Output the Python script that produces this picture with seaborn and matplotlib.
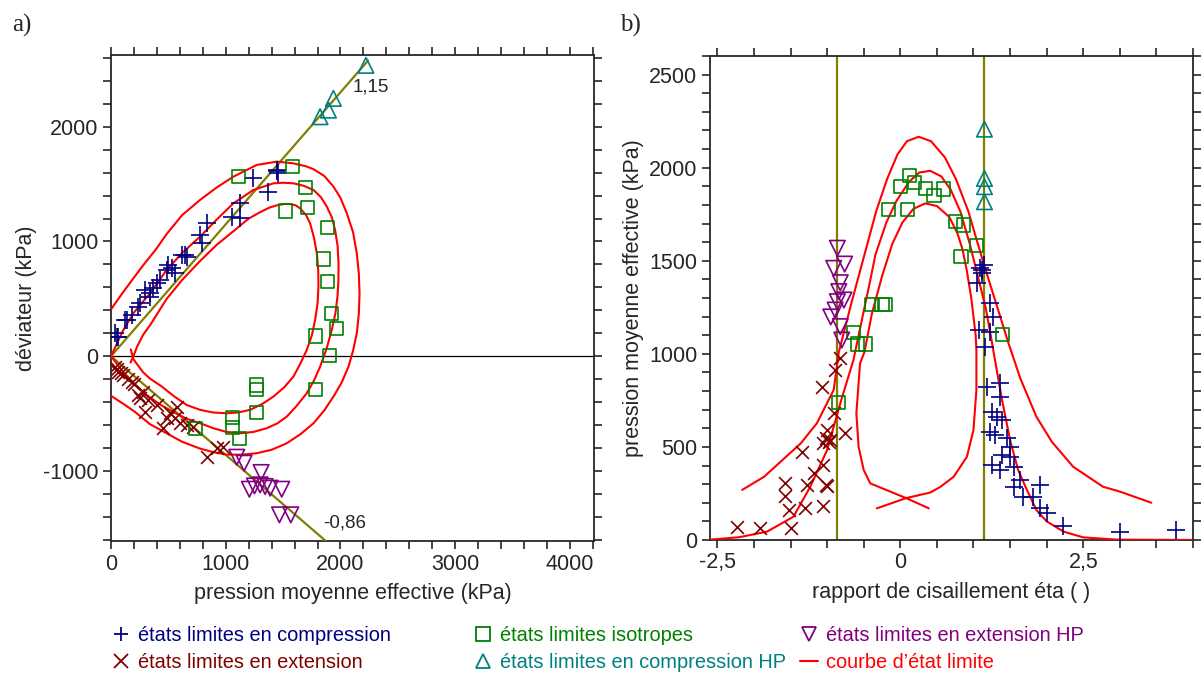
import numpy as np
import pandas as pd
import matplotlib
matplotlib.use("Agg")
import matplotlib.pyplot as plt
from matplotlib.lines import Line2D
from matplotlib.ticker import MultipleLocator, FuncFormatter
import seaborn as sns

# ---------- a) deviateur q (kPa) vs pression moyenne effective p (kPa) ----------
comp_p = [35, 49, 64, 122, 137, 180, 238, 253, 296, 340, 340, 369, 398, 427, 485, 500, 529, 558,
          616, 645, 660, 776, 791, 834, 1052, 1125, 1125, 1241, 1371, 1445, 1459, 1450]
comp_q = [200, 171, 171, 316, 316, 360, 432, 462, 578, 519, 549, 592, 636, 665, 752, 796, 766, 723,
          882, 883, 868, 1057, 984, 1158, 1216, 1202, 1333, 1550, 1434, 1623, 1594, 1610]

ext_p = [35, 50, 64, 90, 108, 151, 180, 200, 238, 253, 282, 296, 326, 398, 456, 485, 515, 558,
         573, 602, 660, 718, 834, 922, 980]
ext_q = [-90, -110, -134, -150, -163, -200, -221, -240, -337, -366, -308, -482, -380, -424, -627,
         -540, -497, -540, -438, -584, -598, -613, -874, -801, -787]

iso_p = [1110, 1581, 1698, 1712, 1523, 1887, 1852, 1887, 1924, 1962, 1779, 1904, 1779, 1270, 1270,
         1270, 1058, 1058, 1119, 738]
iso_q = [1565, 1652, 1472, 1295, 1266, 1121, 848, 650, 375, 244, 177, 3, -293, -250, -293, -491,
         -531, -621, -714, -627]

hpc_p = [2222, 1938, 1895, 1822]
hpc_q = [2535, 2247, 2145, 2087]

hpe_p = [1096, 1160, 1308, 1206, 1250, 1299, 1343, 1387, 1488, 1468, 1567]
hpe_q = [-880, -932, -1013, -1159, -1130, -1121, -1135, -1150, -1159, -1382, -1382]

# limit-state curves (courbes d'etat limite), panel a
out_p = [0, 100, 200, 286, 394, 485, 620, 776, 920, 1067, 1270, 1445, 1590, 1700, 1765, 1860, 1939,
         2000, 2055, 2110, 2142, 2160, 2166, 2160, 2142, 2110, 2070, 2010, 1939, 1860, 1765, 1650,
         1532, 1400, 1270, 1140, 1009, 890, 776, 620, 485, 340, 200, 100, 0]
out_q = [409, 550, 686, 800, 935, 1065, 1230, 1362, 1470, 1565, 1667, 1696, 1681, 1655, 1630, 1570,
         1478, 1380, 1246, 1080, 897, 720, 549, 370, 200, 50, -90, -230, -351, -470, -584, -680,
         -758, -815, -845, -858, -857, -835, -805, -745, -672, -592, -478, -410, -345]

mid_p = [0, 100, 195, 340, 485, 620, 776, 920, 1067, 1241, 1416, 1500, 1590, 1680, 1765, 1830, 1881,
         1925, 1953, 1975, 1983, 1982, 1974, 1955, 1924, 1880, 1823, 1770, 1706, 1620, 1532, 1450,
         1358, 1240, 1125, 1000, 892, 780, 660, 540, 427, 300, 195, 100, 0]
mid_q = [0, 215, 375, 549, 752, 900, 1042, 1190, 1333, 1449, 1507, 1512, 1507, 1485, 1449, 1385, 1304,
         1210, 1100, 960, 810, 660, 520, 370, 229, 70, -90, -210, -322, -430, -526, -585, -627, -660,
         -671, -658, -627, -585, -545, -485, -420, -330, -230, -130, 0]

inn_p = [170, 195, 230, 282, 340, 485, 620, 776, 920, 1067, 1200, 1299, 1380, 1445, 1510, 1561, 1610,
         1648, 1700, 1735, 1770, 1794, 1806, 1808, 1800, 1779, 1750, 1706, 1650, 1590, 1510, 1416,
         1320, 1212, 1110, 1009, 890, 776, 660, 544, 440, 340, 280, 224, 195, 172]
inn_q = [-54, 0, 90, 190, 270, 500, 665, 830, 970, 1090, 1200, 1255, 1295, 1315, 1327, 1327, 1315,
         1289, 1230, 1159, 1030, 897, 750, 607, 460, 316, 180, 55, -65, -177, -270, -351, -415, -467,
         -490, -497, -490, -467, -425, -345, -262, -195, -140, -65, -25, 60]

eta_comp, eta_ext = 1.15, -0.86
line_p_end = [2240, 1900]

# ---------- b) pression moyenne effective p vs rapport eta ----------
r_comp_e = [1.09, 1.11, 1.14, 1.05, 1.12, 1.23, 1.27, 1.07, 1.23, 1.16, 1.18, 1.36, 1.36, 1.25, 1.32,
            1.39, 1.23, 1.29, 1.46, 1.50, 1.39, 1.50, 1.25, 1.36, 1.55, 1.64, 1.55, 1.91, 1.68, 1.82,
            1.91, 2.00, 2.23, 3.00, 3.77]
r_comp_p = [1459, 1432, 1477, 1379, 1450, 1271, 1199, 1128, 1119, 1038, 823, 841, 770, 689, 662,
            644, 582, 564, 546, 501, 457, 448, 403, 376, 394, 322, 286, 295, 233, 233, 170, 143, 76,
            45, 54]

r_ext_e = [-0.82, -0.89, -1.07, -0.91, -0.75, -1.00, -1.02, -0.98, -1.05, -0.96, -1.34, -1.05, -1.18,
           -1.57, -1.27, -1.02, -1.00, -1.57, -1.52, -1.30, -1.05, -2.23, -1.91, -1.50]
r_ext_p = [976, 913, 823, 680, 573, 591, 546, 528, 519, 535, 474, 403, 358, 304, 295, 295, 290, 238,
           161, 170, 183, 71, 63, 63]

r_iso_e = [0.13, 0.00, 0.19, 0.35, 0.46, 0.59, -0.16, 0.10, 0.75, 0.86, 1.04, 0.83, -0.39, -0.25,
           -0.20, -0.64, -0.59, -0.48, 1.40, -0.84]
r_iso_p = [1960, 1901, 1921, 1889, 1849, 1885, 1776, 1776, 1713, 1692, 1584, 1522, 1266, 1266, 1266,
           1113, 1053, 1053, 1105, 739]

r_hpc_e = [1.15, 1.15, 1.15, 1.15]
r_hpc_p = [2207, 1942, 1898, 1817]

r_hpe_e = [-0.86, -0.91, -0.76, -0.82, -0.84, -0.77, -0.86, -0.89, -0.95, -0.82, -0.80]
r_hpe_p = [1567, 1459, 1482, 1382, 1334, 1289, 1280, 1235, 1198, 1146, 1074]

r_out_e = [-2.16, -1.86, -1.36, -1.14, -0.91, -0.84, -0.67, -0.49, -0.33, -0.18, -0.04, 0.09, 0.25,
           0.42, 0.61, 0.76, 0.93, 1.06, 1.17, 1.31, 1.47, 1.64, 1.86, 2.07, 2.36, 2.77, 3.00, 3.43]
r_out_p = [269, 340, 519, 627, 806, 1009, 1270, 1532, 1765, 1939, 2070, 2142, 2166, 2142, 2055, 1939,
           1765, 1590, 1445, 1270, 1067, 868, 662, 528, 394, 286, 260, 200]

r_mid_e = [-2.60, -2.20, -1.82, -1.46, -1.23, -1.00, -0.82, -0.64, -0.41, -0.34, -0.19, -0.05, 0.12,
           0.26, 0.41, 0.56, 0.69, 0.82, 0.95, 1.06, 1.17, 1.25, 1.27, 1.39, 1.50, 1.61, 1.73, 1.86,
           2.00, 2.23, 2.50, 2.96, 4.00]
r_mid_p = [2, 15, 45, 125, 286, 483, 734, 967, 1396, 1532, 1706, 1823, 1924, 1974, 1983, 1953, 1881,
           1765, 1590, 1416, 1241, 1067, 1020, 752, 537, 376, 269, 161, 100, 45, 14, 2, 0]

r_inn_e = [-0.32, 0.08, 0.41, 0.55, 0.73, 0.91, 1.00, 1.04, 1.04, 1.03, 0.97, 0.91, 0.85, 0.78, 0.67,
           0.50, 0.34, 0.18, 0.03, -0.11, -0.25, -0.39, -0.49, -0.55, -0.60, -0.57, -0.50, -0.41,
           0.08, 0.39]
r_inn_p = [170, 225, 255, 286, 340, 447, 591, 806, 1020, 1100, 1299, 1445, 1561, 1648, 1735, 1794,
           1808, 1779, 1706, 1590, 1416, 1212, 1009, 949, 680, 501, 376, 304, 225, 170]

# ---------- style ----------
sns.set_style("ticks")
plt.rcParams['font.family'] = ['Liberation Sans', 'DejaVu Sans']
plt.rcParams['axes.unicode_minus'] = False

NAVY, DRED, GREEN, TEAL, PURP, RED, OLIVE = ('#000080', '#800000', '#008000', '#008080',
                                            '#800080', '#ff0000', '#808000')
FS = 15.5

fig = plt.figure(figsize=(12.04, 6.8), dpi=100)
axa = fig.add_axes([0.0922, 0.2044, 0.4012, 0.7147])
axb = fig.add_axes([0.5897, 0.2059, 0.4012, 0.7118])


def scat(ax, x, y, marker, color, s, open_=False):
    kw = dict(facecolor='none', edgecolor=color) if open_ else {}
    sns.scatterplot(x=x, y=y, ax=ax, marker=marker, s=s, color=color, linewidth=1.2,
                    zorder=4, **kw)


def curve(ax, x, y, color=RED, lw=1.5):
    df = pd.DataFrame({'x': x, 'y': y})
    sns.lineplot(data=df, x='x', y='y', ax=ax, sort=False, estimator=None, color=color,
                 linewidth=lw, zorder=3)


# panel a
axa.axhline(0, color='black', lw=0.9, zorder=1)
for eta, pe in zip([eta_comp, eta_ext], line_p_end):
    curve(axa, [0, pe], [0, eta * pe], color=OLIVE, lw=1.6)
for cp, cq in [(out_p, out_q), (mid_p, mid_q), (inn_p, inn_q)]:
    curve(axa, cp, cq)
scat(axa, comp_p, comp_q, '+', NAVY, 150)
scat(axa, ext_p, ext_q, 'x', DRED, 85)
scat(axa, iso_p, iso_q, 's', GREEN, 90, True)
scat(axa, hpc_p, hpc_q, '^', TEAL, 125, True)
scat(axa, hpe_p, hpe_q, 'v', PURP, 125, True)
axa.text(2110, 2346, '1,15', fontsize=13.5, va='center', ha='left')
axa.text(1850, -1450, '-0,86', fontsize=13.5, va='center', ha='left')

axa.set_xlim(0, 4210)
axa.set_ylim(-1610, 2625)
axa.xaxis.set_major_locator(MultipleLocator(1000))
axa.xaxis.set_minor_locator(MultipleLocator(200))
axa.yaxis.set_major_locator(MultipleLocator(1000))
axa.yaxis.set_minor_locator(MultipleLocator(200))
axa.set_xlabel('pression moyenne effective (kPa)', fontsize=FS, labelpad=6)
axa.set_ylabel('déviateur (kPa)', fontsize=FS, labelpad=4)

# panel b
axb.axvline(eta_ext, color=OLIVE, lw=1.6, zorder=2)
axb.axvline(eta_comp, color=OLIVE, lw=1.6, zorder=2)
for ce, cp in [(r_out_e, r_out_p), (r_mid_e, r_mid_p), (r_inn_e, r_inn_p)]:
    curve(axb, ce, cp)
scat(axb, r_comp_e, r_comp_p, '+', NAVY, 150)
scat(axb, r_ext_e, r_ext_p, 'x', DRED, 85)
scat(axb, r_iso_e, r_iso_p, 's', GREEN, 90, True)
scat(axb, r_hpc_e, r_hpc_p, '^', TEAL, 125, True)
scat(axb, r_hpe_e, r_hpe_p, 'v', PURP, 125, True)

axb.set_xlim(-2.6, 4.0)
axb.set_ylim(0, 2600)
axb.xaxis.set_major_locator(MultipleLocator(2.5))
axb.xaxis.set_minor_locator(MultipleLocator(0.5))
axb.yaxis.set_major_locator(MultipleLocator(500))
axb.yaxis.set_minor_locator(MultipleLocator(100))
axb.xaxis.set_major_formatter(FuncFormatter(lambda v, _: f"{v:g}".replace('.', ',')))
axb.set_xlabel('rapport de cisaillement éta ( )', fontsize=FS, labelpad=6)
axb.set_ylabel('pression moyenne effective (kPa)', fontsize=FS, labelpad=4)

for ax in (axa, axb):
    ax.tick_params(which='both', direction='out', top=True, right=True, length=6, width=1.2,
                   labelsize=FS, pad=3)
    for sp in ax.spines.values():
        sp.set_linewidth(1.3)

fig.text(0.010, 0.963, 'a)', fontsize=18, family='Liberation Serif', va='center')
fig.text(0.515, 0.963, 'b)', fontsize=18, family='Liberation Serif', va='center')

# legend in three columns
def mk(marker, color, open_=False):
    return Line2D([], [], ls='none', marker=marker, ms=10, mew=1.3, color=color,
                  mfc='none' if open_ else color)

cols = [
    ([mk('+', NAVY), mk('x', DRED)],
     ['états limites en compression', 'états limites en extension'], [NAVY, DRED], 0.093),
    ([mk('s', GREEN, True), mk('^', TEAL, True)],
     ['états limites isotropes', 'états limites en compression HP'], [GREEN, TEAL], 0.394),
    ([mk('v', PURP, True), Line2D([], [], color=RED, lw=1.5)],
     ['états limites en extension HP', 'courbe d\u2019état limite'], [PURP, RED], 0.6645),
]
for hs, labs, cs, x0 in cols:
    lg = fig.legend(hs, labs, loc='upper left', bbox_to_anchor=(x0, 0.0794), frameon=False,
                    fontsize=14.4, handlelength=0.9, handletextpad=0.4, labelspacing=0.42,
                    borderpad=0, borderaxespad=0)
    for t, c in zip(lg.get_texts(), cs):
        t.set_color(c)

fig.savefig('out.png', dpi=100)
